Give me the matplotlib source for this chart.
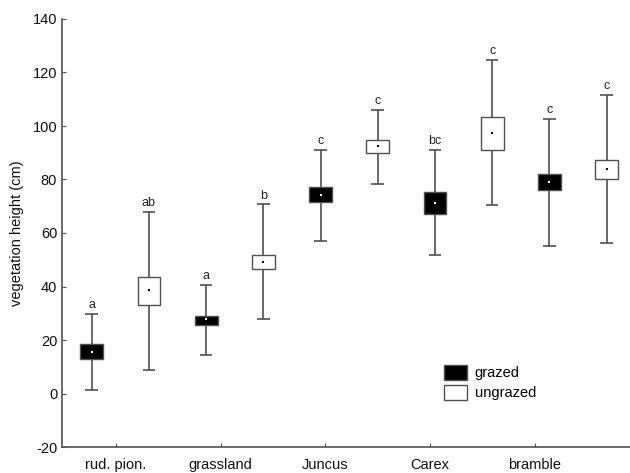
import matplotlib
matplotlib.use("Agg")
import matplotlib.pyplot as plt
from matplotlib.patches import Patch
import numpy as np

plt.rcParams['font.family'] = ['Liberation Sans', 'DejaVu Sans']
plt.rcParams['axes.unicode_minus'] = False

habitats = ["rud. pion.", "grassland", "Juncus", "Carex", "bramble"]

# grazed / ungrazed: mean, box (low, high), whiskers (low, high)
grazed_mean = [15.6, 27.7, 74.3, 71.2, 79.2]
grazed_box_lo = [13.0, 25.6, 71.5, 67.1, 76.1]
grazed_box_hi = [18.4, 29.1, 77.2, 75.4, 82.2]
grazed_wh_lo = [1.4, 14.4, 57.0, 51.8, 55.3]
grazed_wh_hi = [29.7, 40.6, 91.1, 91.1, 102.6]
grazed_letters = ["a", "a", "c", "bc", "c"]

ungrazed_mean = [38.6, 49.0, 92.5, 97.5, 83.9]
ungrazed_box_lo = [33.0, 46.5, 90.0, 91.1, 80.3]
ungrazed_box_hi = [43.7, 51.8, 94.8, 103.4, 87.2]
ungrazed_wh_lo = [8.7, 27.9, 78.3, 70.5, 56.1]
ungrazed_wh_hi = [68.0, 70.7, 105.9, 124.7, 111.6]
ungrazed_letters = ["ab", "b", "c", "c", "c"]

line_col = "#505050"

fig = plt.figure(figsize=(6.3, 4.73), dpi=100)
ax = fig.add_axes([62 / 630, 26 / 473, 568 / 630, 428 / 473])

pos_g = np.arange(5) * 2
pos_u = pos_g + 1
box_w = 0.40
cap_w = 0.22

for pos, mean, blo, bhi, wlo, whi, letters, face, dot in [
    (pos_g, grazed_mean, grazed_box_lo, grazed_box_hi, grazed_wh_lo, grazed_wh_hi, grazed_letters, "black", "white"),
    (pos_u, ungrazed_mean, ungrazed_box_lo, ungrazed_box_hi, ungrazed_wh_lo, ungrazed_wh_hi, ungrazed_letters, "white", "black"),
]:
    ax.vlines(pos, wlo, whi, color=line_col, lw=1.2, zorder=1)
    ax.hlines(wlo, pos - cap_w / 2, pos + cap_w / 2, color=line_col, lw=1.2, zorder=1)
    ax.hlines(whi, pos - cap_w / 2, pos + cap_w / 2, color=line_col, lw=1.2, zorder=1)
    heights = np.array(bhi) - np.array(blo)
    ax.bar(pos, heights, bottom=blo, width=box_w, color=face, edgecolor=line_col, lw=1.0, zorder=2)
    ax.scatter(pos, mean, marker="s", s=4.5, color=dot, zorder=3, linewidths=0)
    for x, y, t in zip(pos, whi, letters):
        ax.annotate(t, (x, y), xytext=(0, 2), textcoords="offset points",
                    ha="center", va="bottom", fontsize=9, color="#222222")

ax.set_xlim(-0.52, 9.41)
ax.set_ylim(-20, 140)
ax.set_yticks(np.arange(-20, 141, 20))
ax.set_xticks(np.linspace(0.42, 7.745, 5))
ax.set_xticklabels(habitats)
ax.tick_params(direction="in", length=3, color=line_col, labelsize=10.5, labelcolor="#111111")
ax.tick_params(axis="x", pad=8)
for s in ["top", "right"]:
    ax.spines[s].set_visible(False)
for s in ["left", "bottom"]:
    ax.spines[s].set_color(line_col)
    ax.spines[s].set_linewidth(1.2)
ax.set_ylabel("vegetation height (cm)", fontsize=10.5, color="#111111", labelpad=6)

handles = [Patch(facecolor="black", edgecolor=line_col, label="grazed"),
           Patch(facecolor="white", edgecolor=line_col, label="ungrazed")]
fig.legend(handles=handles, loc="upper left", bbox_to_anchor=(444 / 630, 1 - 365 / 473),
           frameon=False, fontsize=10.5, borderpad=0, borderaxespad=0,
           handlelength=1.6, handleheight=1.2, handletextpad=0.5, labelspacing=0.3)

fig.savefig("out.png", dpi=100)
